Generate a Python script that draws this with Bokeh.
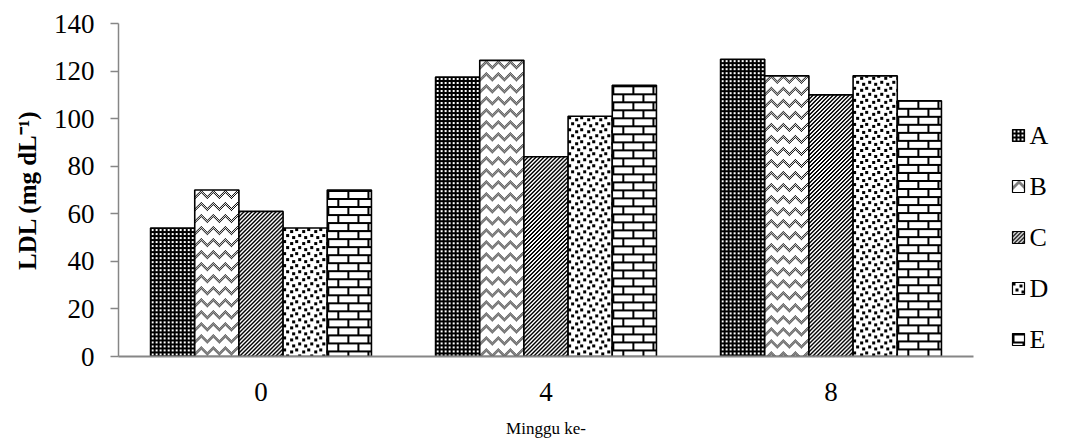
import numpy as np

from bokeh.core.properties import value
from bokeh.embed import file_html
from bokeh.layouts import row
from bokeh.models import ColumnDataSource, FactorRange, Range1d
from bokeh.plotting import figure
from bokeh.resources import INLINE
from bokeh.transform import dodge

# ---- data -------------------------------------------------------------
weeks = ["0", "4", "8"]
groups = ["A", "B", "C", "D", "E"]
ldl_A = [54, 117.5, 125]
ldl_B = [70, 124.5, 118]
ldl_C = [61, 84, 110]
ldl_D = [54, 101, 118]
ldl_E = [70, 114, 107.5]
y_ticks = [0, 20, 40, 60, 80, 100, 120, 140]

series = {"A": ldl_A, "B": ldl_B, "C": ldl_C, "D": ldl_D, "E": ldl_E}

# ---- geometry of the chart frame ---------------------------------------
MAIN_W, H = 990, 446
BORDER_L, BORDER_R, BORDER_T, BORDER_B = 118, 17, 23, 90
FRAME_W = MAIN_W - BORDER_L - BORDER_R
FRAME_H = H - BORDER_T - BORDER_B
Y_MAX = 140
bar_w = 0.155


# ---- monochrome fill patterns (tiles, '#' = black) ---------------------
def brick_tile():
    rows = []
    for y in range(16):
        line = ""
        for x in range(20):
            if y % 8 in (0, 1):
                line += "#"
            elif y < 8:
                line += "#" if x in (0, 1) else "."
            else:
                line += "#" if x in (10, 11) else "."
        rows.append(line)
    return rows


def zigzag_tile():
    rows = []
    for y in range(12):
        line = ""
        for x in range(12):
            d = (y - abs(x - 6)) % 12
            on = d in (0, 1, 2) and (x + y) % 2 == 0
            line += "#" if on else "."
        rows.append(line)
    return rows


def confetti_tile():
    size, sq = 12, 3
    spots = [(0, 0), (7, 2), (3, 6), (9, 8)]
    grid = [["."] * size for _ in range(size)]
    for sx, sy in spots:
        for dy in range(sq):
            for dx in range(sq):
                grid[(sy + dy) % size][(sx + dx) % size] = "#"
    return ["".join(r) for r in grid]


tiles = {
    # dense dark grid with small light openings
    "A": ["####", "#..#", "#..#", "####"],
    # dithered zig-zag
    "B": zigzag_tile(),
    # wide upward diagonal
    "C": ["##..", "#..#", "..##", ".##."],
    # large confetti
    "D": confetti_tile(),
    # brick
    "E": brick_tile(),
}


def pattern_rgba(g, h_px, w_px):
    """Fill an h_px x w_px RGBA image by repeating the tile of group g."""
    tile = np.array([[c == "#" for c in r] for r in tiles[g]])
    th, tw = tile.shape
    mask = tile[np.arange(h_px)[:, None] % th, np.arange(w_px)[None, :] % tw]
    img = np.where(mask, 0xFF000000, 0xFFFFFFFF).astype(np.uint32)
    return img[::-1]  # image rows run bottom-up


# ---- main chart -------------------------------------------------------
p = figure(
    x_range=FactorRange(*weeks, range_padding=0),
    y_range=(0, Y_MAX),
    width=MAIN_W,
    height=H,
    output_backend="svg",
    toolbar_location=None,
    min_border_left=BORDER_L,
    min_border_right=BORDER_R,
    min_border_top=BORDER_T,
    min_border_bottom=BORDER_B,
    outline_line_color=None,
)

px_per_factor = FRAME_W / len(weeks)
px_per_unit = FRAME_H / Y_MAX
bar_px_w = int(round(bar_w * px_per_factor))

offsets = [-2 * bar_w, -bar_w, 0, bar_w, 2 * bar_w]
for g, off in zip(groups, offsets):
    vals = series[g]
    src = ColumnDataSource(data=dict(
        week=weeks,
        top=vals,
        image=[pattern_rgba(g, int(round(v * px_per_unit)), bar_px_w) for v in vals],
    ))
    # patterned fill
    p.image_rgba(image="image", x=dodge("week", off - bar_w / 2, range=p.x_range),
                 y=0, dw=bar_w, dh="top", source=src)
    # bar outline
    p.vbar(x=dodge("week", off, range=p.x_range), top="top", width=bar_w,
           source=src, fill_color=None, line_color="black", line_width=1.6)

p.xgrid.grid_line_color = None
p.ygrid.grid_line_color = None

axis_gray = "#868686"

p.yaxis.ticker = y_ticks
p.yaxis.axis_line_color = axis_gray
p.yaxis.axis_line_width = 1.5
p.yaxis.major_tick_line_color = axis_gray
p.yaxis.major_tick_line_width = 1.5
p.yaxis.major_tick_in = 0
p.yaxis.major_tick_out = 8
p.yaxis.minor_tick_line_color = None
p.yaxis.major_label_standoff = 16
p.yaxis.major_label_text_font = "Liberation Serif"
p.yaxis.major_label_text_font_size = "27px"
p.yaxis.major_label_text_color = "black"
p.yaxis.axis_label = "LDL (mg dL⁻¹)"
p.yaxis.axis_label_text_font = "Liberation Serif"
p.yaxis.axis_label_text_font_style = "bold"
p.yaxis.axis_label_text_font_size = "25px"
p.yaxis.axis_label_text_color = "black"
p.yaxis.axis_label_standoff = 10

p.xaxis.axis_line_color = axis_gray
p.xaxis.axis_line_width = 2
p.xaxis.major_tick_line_color = None
p.xaxis.minor_tick_line_color = None
p.xaxis.major_tick_in = 0
p.xaxis.major_tick_out = 0
p.xaxis.major_label_standoff = 26
p.xaxis.major_label_text_font = "Liberation Serif"
p.xaxis.major_label_text_font_size = "27px"
p.xaxis.major_label_text_color = "black"
p.xaxis.axis_label = "Minggu ke-"
p.xaxis.axis_label_text_font = "Liberation Serif"
p.xaxis.axis_label_text_font_style = "normal"
p.xaxis.axis_label_text_font_size = "17px"
p.xaxis.axis_label_text_color = "black"
p.xaxis.axis_label_standoff = 15

# ---- legend strip to the right of the chart ----------------------------
# Its frame shares the chart's top/bottom borders; the y range is laid out
# so that one data unit equals one pixel, counted up from the page bottom.
LEG_W = 1067 - MAIN_W
q = figure(
    width=LEG_W,
    height=H,
    x_range=Range1d(0, LEG_W),
    y_range=Range1d(BORDER_B, H - BORDER_T),
    output_backend="svg",
    toolbar_location=None,
    min_border_left=0,
    min_border_right=0,
    min_border_top=BORDER_T,
    min_border_bottom=BORDER_B,
    outline_line_color=None,
    x_axis_type=None,
    y_axis_type=None,
)
q.xgrid.grid_line_color = None
q.ygrid.grid_line_color = None

SW = 12          # swatch size, px
first_row, row_step = 135, 51
rows_y = [H - (first_row + i * row_step) for i in range(len(groups))]
sw_x = 22

leg = ColumnDataSource(data=dict(
    label=groups,
    y=rows_y,
    y0=[y - SW / 2 for y in rows_y],
    image=[pattern_rgba(g, SW, SW) for g in groups],
))
q.image_rgba(image="image", x=sw_x, y="y0", dw=SW, dh=SW, source=leg)
q.rect(x=sw_x + SW / 2, y="y", width=SW, height=SW, source=leg,
       fill_color=None, line_color="black", line_width=1.2)
q.text(x=sw_x + SW + 5, y="y", text="label", source=leg,
       text_baseline="middle", text_align="left",
       text_font=value("Liberation Serif"), text_font_size="26px", text_color="black")

layout = row(p, q)
open("out.html", "w").write(file_html(layout, INLINE))
